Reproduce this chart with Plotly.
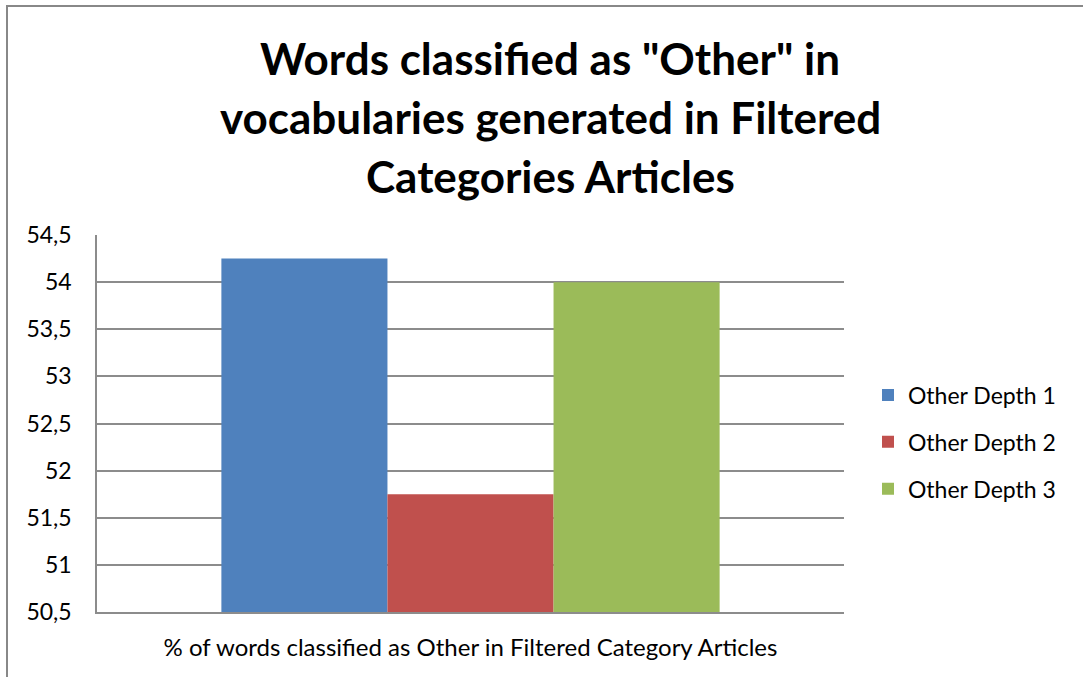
import plotly.graph_objects as go

# Chart data
category = ["% of words classified as Other in Filtered Category Articles"]
series_names = ["Other Depth 1", "Other Depth 2", "Other Depth 3"]
series_values = [54.25, 51.75, 54.0]
series_colors = ["#4f81bd", "#c0504d", "#9bbb59"]
y_tick_values = [50.5, 51, 51.5, 52, 52.5, 53, 53.5, 54, 54.5]
title_lines = ['Words classified as "Other" in',
               "vocabularies generated in Filtered",
               "Categories Articles"]

W, H = 1083, 677
L, R, T, B = 97, 239, 235, 65
plot_w = W - L - R
plot_h = H - T - B

FONT = "Lato"

fig = go.Figure()
for name, val, col in zip(series_names, series_values, series_colors):
    fig.add_trace(go.Bar(x=category, y=[val], name=name, legendgroup=name,
                         marker=dict(color=col, line=dict(width=0))))


def px_to_paper_x(px):
    return (px - L) / plot_w


def px_to_paper_y(py):
    return (H - B - py) / plot_h


annotations = []
for i, line in enumerate(title_lines):
    annotations.append(dict(
        text=f"<b>{line}</b>", x=px_to_paper_x(550), y=px_to_paper_y(58 + 59 * i),
        xref="paper", yref="paper", xanchor="center", yanchor="middle",
        showarrow=False, font=dict(family=FONT, size=44, color="#000000")))

fig.update_layout(
    width=W, height=H,
    margin=dict(l=L, r=R, t=T, b=B, autoexpand=False),
    paper_bgcolor="white", plot_bgcolor="white",
    separators=",.",
    barmode="group", bargap=0.333, bargroupgap=0,
    font=dict(family=FONT, size=22, color="#000000"),
    annotations=annotations,
    legend=dict(x=px_to_paper_x(868), y=px_to_paper_y(442), xanchor="left", yanchor="middle",
                xref="paper", yref="paper",
                font=dict(family=FONT, size=23), tracegroupgap=14,
                itemwidth=30, bgcolor="rgba(0,0,0,0)"),
    showlegend=True,
    shapes=[dict(type="rect", xref="paper", yref="paper",
                 x0=px_to_paper_x(7), x1=px_to_paper_x(W + 20),
                 y0=px_to_paper_y(H + 20), y1=px_to_paper_y(6),
                 line=dict(color="#888888", width=2), fillcolor="rgba(0,0,0,0)",
                 layer="below")],
)

fig.update_yaxes(range=[50.5, 54.5], tickvals=y_tick_values,
                 showgrid=True, gridcolor="#8c8c8c", gridwidth=1.5,
                 showline=True, linecolor="#8c8c8c", linewidth=1.5,
                 ticks="", ticklabelstandoff=19, zeroline=False,
                 tickfont=dict(family=FONT, size=23))
fig.update_xaxes(showline=True, linecolor="#8c8c8c", linewidth=1.5, mirror=False,
                 ticks="", ticklabelstandoff=13,
                 tickfont=dict(family=FONT, size=24))

fig.write_html("out.html")
